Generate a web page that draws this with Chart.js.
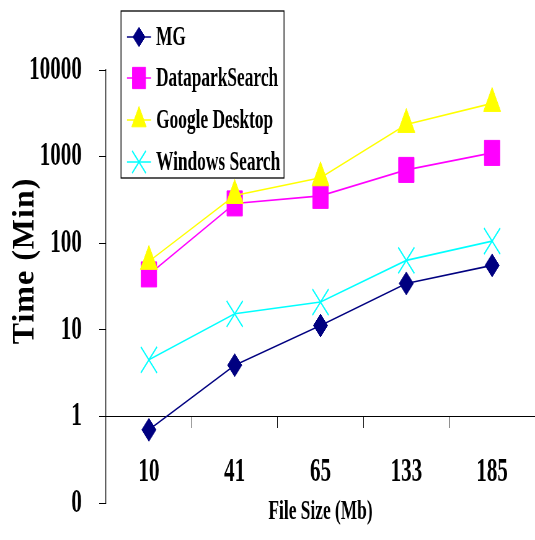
<!DOCTYPE html>
<html><head><meta charset="utf-8">
<script src="https://cdn.jsdelivr.net/npm/chart.js@4.4.1/dist/chart.umd.min.js"></script>
<style>html,body{margin:0;padding:0;background:#fff;overflow:hidden}canvas{display:block}</style>
</head><body>
<canvas id="c" width="863" height="540" style="width:535px;height:540px"></canvas>
<script>
const categories = ['10', '41', '65', '133', '185'];
const seriesNames = ['MG', 'DataparkSearch', 'Google Desktop', 'Windows Search'];
const mgValues = [0.7, 3.9, 11.2, 34.3, 55.4];
const dataparkValues = [43.6, 288, 352, 702, 1103];
const googleValues = [61.7, 356, 570, 2353, 4115];
const windowsValues = [4.5, 15.3, 20.9, 63.3, 105.7];
const yTickValues = [0.1, 1, 10, 100, 1000, 10000];
const yTickLabels = ['0', '1', '10', '100', '1000', '10000'];
const xTitle = 'File Size (Mb)';
const yTitle = 'Time (Min)';

const SX = 535 / 863; // the reference is squeezed horizontally
const FONT = "'Liberation Serif', 'Times New Roman', serif";

function makeDs(label, data, color, style, radius, pbw, order) {
  return {
    label, data, order,
    borderColor: color, backgroundColor: color, borderWidth: 1.6,
    pointStyle: style, pointRadius: radius, pointHoverRadius: radius,
    pointBackgroundColor: color, pointBorderColor: color, pointBorderWidth: pbw,
    tension: 0, fill: false, clip: false
  };
}

const datasets = [
  makeDs(seriesNames[0], mgValues, '#000080', 'rectRot', 11.5, 1, 4),
  makeDs(seriesNames[1], dataparkValues, '#FF00FF', 'rect', 17.7, 1, 3),
  makeDs(seriesNames[2], googleValues, '#FFFF00', 'triangle', 16, 1, 2),
  makeDs(seriesNames[3], windowsValues, '#00FFFF', 'crossRot', 18.4, 1.8, 1)
];

function zeroPad(s) { s.paddingLeft = 0; s.paddingRight = 0; s.paddingTop = 0; s.paddingBottom = 0; }

function markerFallback(ctx, style, r, x, y) {
  ctx.beginPath();
  if (style === 'rectRot') { ctx.moveTo(x - r, y); ctx.lineTo(x, y - r); ctx.lineTo(x + r, y); ctx.lineTo(x, y + r); ctx.closePath(); ctx.fill(); }
  else if (style === 'rect') { const s = r * Math.SQRT1_2; ctx.rect(x - s, y - s, 2 * s, 2 * s); ctx.fill(); }
  else if (style === 'triangle') { for (let k = 0; k < 3; k++) { const a = k * 2 * Math.PI / 3; const px = x + Math.sin(a) * r, py = y - Math.cos(a) * r; k ? ctx.lineTo(px, py) : ctx.moveTo(px, py); } ctx.closePath(); ctx.fill(); }
  else { const s = r * Math.SQRT1_2; ctx.moveTo(x - s, y - s); ctx.lineTo(x + s, y + s); ctx.moveTo(x - s, y + s); ctx.lineTo(x + s, y - s); ctx.stroke(); }
}

const legendPlugin = {
  id: 'boxLegend',
  afterDraw(chart) {
    const ctx = chart.ctx;
    const L = 121 / SX, T = 11, R = 284 / SX, B = 178;
    ctx.save();
    ctx.fillStyle = '#fff';
    ctx.fillRect(L, T, R - L, B - T);
    ctx.strokeStyle = '#000';
    ctx.lineWidth = 1.3;
    ctx.strokeRect(L, T, R - L, B - T);
    const rowY = [37, 78, 120, 162];
    chart.data.datasets.forEach((ds, i) => {
      const y = rowY[i];
      ctx.strokeStyle = ds.borderColor;
      ctx.lineWidth = ds.borderWidth;
      ctx.beginPath(); ctx.moveTo(127 / SX, y); ctx.lineTo(151 / SX, y); ctx.stroke();
      ctx.fillStyle = ds.pointBackgroundColor;
      ctx.strokeStyle = ds.pointBorderColor;
      ctx.lineWidth = ds.pointBorderWidth;
      const r = ds.pointRadius * 0.85;
      if (Chart.helpers && Chart.helpers.drawPoint) {
        Chart.helpers.drawPoint(ctx, {pointStyle: ds.pointStyle, rotation: 0, radius: r, borderWidth: ds.pointBorderWidth}, 139 / SX, y);
      } else {
        markerFallback(ctx, ds.pointStyle, r, 139 / SX, y);
      }
      ctx.fillStyle = '#000';
      ctx.font = 'bold 28px ' + FONT;
      ctx.textAlign = 'left';
      ctx.textBaseline = 'middle';
      ctx.fillText(ds.label, 156 / SX, y + 1);
    });
    ctx.restore();
  }
};

const yTitlePlugin = {
  id: 'yTitle',
  afterDraw(chart) {
    const ctx = chart.ctx;
    ctx.save();
    ctx.translate(25 / SX, 261);
    ctx.rotate(-Math.PI / 2);
    ctx.scale(1, 1 / SX);
    ctx.font = 'bold 32px ' + FONT;
    if ('letterSpacing' in ctx) ctx.letterSpacing = '1px';
    ctx.fillStyle = '#000';
    ctx.textAlign = 'center';
    ctx.textBaseline = 'middle';
    ctx.fillText(yTitle, 0, 0);
    ctx.restore();
  }
};

new Chart(document.getElementById('c'), {
  type: 'line',
  data: { labels: categories, datasets },
  plugins: [legendPlugin, yTitlePlugin],
  options: {
    responsive: false,
    devicePixelRatio: 1,
    animation: false,
    layout: { autoPadding: false, padding: { top: 70, bottom: 37, left: 0, right: 0 } },
    plugins: { legend: { display: false }, title: { display: false }, tooltip: { enabled: false } },
    scales: {
      x: {
        type: 'category', offset: true, position: { y: 1 },
        afterFit: zeroPad,
        grid: { display: true, drawOnChartArea: false, drawTicks: true, tickLength: 11, color: '#000', offset: true, lineWidth: 1 },
        border: { display: true, color: '#000', width: 1 },
        ticks: { font: { family: FONT, size: 34, weight: 'bold' }, color: '#000', padding: 24, maxRotation: 0, autoSkip: false },
        title: { display: true, text: xTitle, font: { family: FONT, size: 28, weight: 'bold' }, color: '#000', padding: { top: -21, bottom: 0 } }
      },
      y: {
        type: 'logarithmic', position: 'left', min: 0.1, max: 10000,
        afterBuildTicks: (s) => { s.ticks = yTickValues.map(v => ({ value: v })); },
        afterFit: (s) => { s.width = 106 / SX; zeroPad(s); },
        grid: { display: true, drawOnChartArea: false, drawTicks: true, tickLength: 11, color: '#000', lineWidth: 1 },
        border: { display: true, color: '#000', width: 1.3 },
        ticks: {
          font: { family: FONT, size: 34, weight: 'bold' }, color: '#000', padding: 28,
          autoSkip: false,
          callback: (v, i) => yTickLabels[i]
        }
      }
    }
  }
});
</script>
</body></html>
